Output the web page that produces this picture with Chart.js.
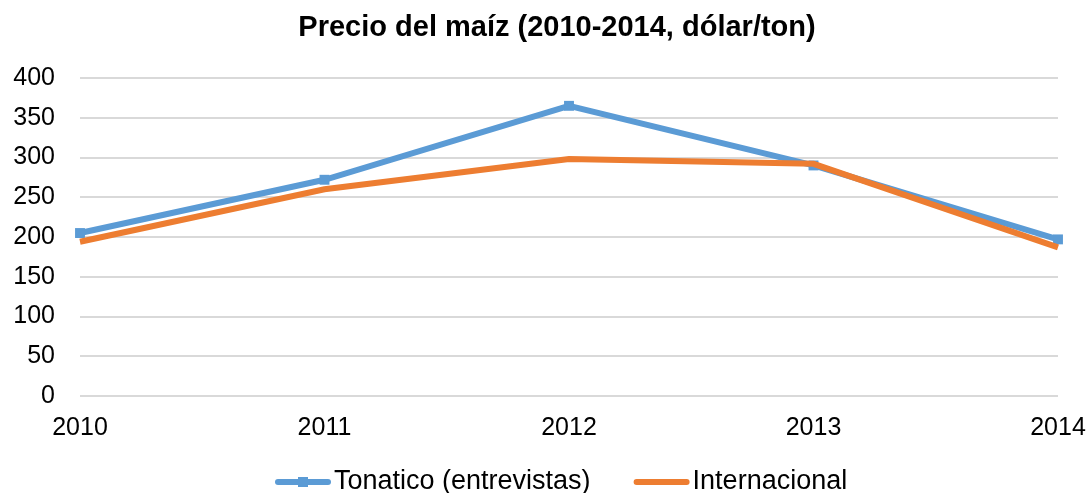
<!DOCTYPE html>
<html>
<head>
<meta charset="utf-8">
<script src="https://cdn.jsdelivr.net/npm/chart.js@4"></script>
<style>
  html, body { margin: 0; padding: 0; background: #fff; }
</style>
</head>
<body>
<canvas id="chart" width="1090" height="493"></canvas>
<script>
const years = ["2010", "2011", "2012", "2013", "2014"];
const tonatico = [205, 272, 365, 290, 197];
const internacional = [194, 260, 298, 292, 187];
const seriesNames = ["Tonatico (entrevistas)", "Internacional"];
const seriesColors = ["#5b9bd5", "#ed7d31"];
const chartTitle = "Precio del maíz (2010-2014, dólar/ton)";

// title and legend drawn by hand so they sit where the original has them
const decorations = {
  id: "decorations",
  afterDraw(chart) {
    const g = chart.ctx;
    g.save();
    g.fillStyle = "#000";
    g.font = "bold 29px 'Liberation Sans'";
    g.textAlign = "center";
    g.textBaseline = "alphabetic";
    g.fillText(chartTitle, 557, 36);

    g.textAlign = "left";
    g.textBaseline = "middle";
    g.font = "27px 'Liberation Sans'";
    let x = 275;
    const y = 482;
    seriesNames.forEach((name, i) => {
      g.strokeStyle = seriesColors[i];
      g.lineWidth = 6;
      g.lineCap = "round";
      g.beginPath();
      g.moveTo(x + 3, y); g.lineTo(x + 53, y);
      g.stroke();
      if (i === 0) {
        g.fillStyle = seriesColors[i];
        g.fillRect(x + 23, y - 5, 10, 10);
      }
      g.fillStyle = "#000";
      g.fillText(name, x + 59, y);
      x += 59 + g.measureText(name).width + 43;
    });
    g.restore();
  }
};

const ctx = document.getElementById("chart").getContext("2d");
new Chart(ctx, {
  type: "line",
  data: {
    labels: years,
    datasets: [
      {
        label: seriesNames[0],
        data: tonatico,
        borderColor: seriesColors[0],
        backgroundColor: seriesColors[0],
        borderWidth: 6,
        pointStyle: "rect",
        pointRadius: 7,
        pointBorderWidth: 0,
        tension: 0,
        order: 1
      },
      {
        label: seriesNames[1],
        data: internacional,
        borderColor: seriesColors[1],
        backgroundColor: seriesColors[1],
        borderWidth: 6,
        pointRadius: 0,
        tension: 0,
        order: 0
      }
    ]
  },
  options: {
    responsive: false,
    animation: false,
    layout: { padding: { left: 0, right: 32, top: 78, bottom: 33 } },
    plugins: {
      title: { display: false },
      legend: { display: false },
      tooltip: { enabled: false }
    },
    scales: {
      x: {
        offset: false,
        afterFit: function (scale) { scale.paddingLeft = 0; scale.paddingRight = 0; },
        grid: { display: false, drawTicks: false },
        border: { display: false },
        ticks: {
          color: "#000",
          font: { family: "Liberation Sans", size: 25 },
          padding: 17,
          maxRotation: 0
        }
      },
      y: {
        min: 0,
        max: 400,
        afterFit: function (scale) { scale.width = 80; },
        grid: { color: "#d9d9d9", lineWidth: 2, drawTicks: false },
        border: { display: false },
        ticks: {
          stepSize: 50,
          color: "#000",
          font: { family: "Liberation Sans", size: 25 },
          padding: 25
        }
      }
    }
  },
  plugins: [decorations]
});
</script>
</body>
</html>
